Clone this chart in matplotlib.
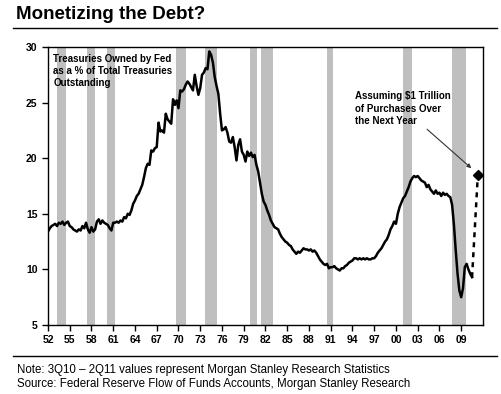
import matplotlib
matplotlib.use("Agg")
import matplotlib.pyplot as plt
from matplotlib.lines import Line2D

plt.rcParams['font.family'] = ['Liberation Sans', 'DejaVu Sans']

# quarterly share of treasuries held by the Fed (%)
years = [1952 + i * 0.25 for i in range(235)]
values = [
    13.4, 13.7, 13.9, 14.0, 14.1, 13.9, 14.2, 14.1, 14.3, 14.0, 14.2, 14.3,   # 52-54
    13.9, 13.8, 13.6, 13.5, 13.4, 13.6, 13.5, 13.9, 13.7, 14.2, 13.6, 13.3,   # 55-57
    13.8, 13.4, 13.6, 14.3, 14.5, 14.1, 14.4, 14.2, 14.1, 14.0, 13.7, 13.5,   # 58-60
    14.2, 14.2, 14.3, 14.2, 14.4, 14.3, 14.7, 14.6, 15.0, 14.9, 15.3, 15.9,   # 61-63
    16.2, 16.6, 16.8, 17.2, 17.6, 18.3, 19.1, 19.5, 19.4, 20.7, 20.6, 20.9,   # 64-66
    21.0, 23.2, 22.4, 22.5, 22.3, 24.0, 23.5, 23.3, 23.1, 25.3, 24.8, 25.2,   # 67-69
    24.5, 26.1, 26.0, 26.2, 26.6, 26.9, 26.7, 26.4, 26.1, 27.5, 26.5, 25.7,   # 70-72
    26.3, 27.5, 27.7, 28.1, 28.0, 29.6, 29.3, 28.6, 27.3, 26.5, 25.8, 24.0,   # 73-75
    22.5, 22.6, 22.8, 22.3, 21.5, 21.4, 21.9, 21.0, 19.8, 21.2, 21.7, 20.6,   # 76-78
    20.3, 19.7, 20.6, 20.2, 20.5, 20.1, 20.3, 19.4, 18.8, 17.8, 16.8, 16.1,   # 79-81
    15.8, 15.3, 14.9, 14.4, 14.1, 13.8, 13.7, 13.6, 13.2, 12.9, 12.7, 12.5,   # 82-84
    12.4, 12.2, 12.1, 11.8, 11.6, 11.4, 11.6, 11.5, 11.7, 11.9, 11.8, 11.8,   # 85-87
    11.7, 11.8, 11.6, 11.7, 11.5, 11.2, 10.9, 10.7, 10.5, 10.4, 10.5, 10.1,   # 88-90
    10.2, 10.2, 10.3, 10.1, 10.0, 9.9, 10.1, 10.1, 10.3, 10.4, 10.6, 10.7,    # 91-93
    10.8, 11.0, 11.0, 10.9, 11.0, 10.9, 11.0, 10.9, 11.0, 10.9, 10.9, 11.0,   # 94-96
    11.0, 11.2, 11.5, 11.7, 11.9, 12.2, 12.5, 12.7, 13.1, 13.6, 13.9, 14.3,   # 97-99
    14.1, 15.0, 15.6, 16.0, 16.4, 16.6, 17.0, 17.4, 17.9, 18.2, 18.4, 18.3,   # 00-02
    18.4, 18.2, 18.0, 17.9, 17.8, 17.4, 17.6, 17.2, 17.0, 16.8, 17.1, 16.8,   # 03-05
    16.9, 16.6, 16.9, 16.7, 16.8, 16.6, 16.5, 15.8, 14.0, 11.7, 9.6, 8.1,     # 06-08
    7.5, 8.3, 10.2, 10.5, 10.0, 9.6, 9.3,                                     # 09-10
]

# projection assuming $1tn of purchases
proj_years = [2010.5, 2011.3]
proj_values = [9.3, 18.5]

# recession periods
recessions = [(1953.25, 1954.5), (1957.4, 1958.5), (1960.2, 1961.3),
              (1969.7, 1971.0), (1973.7, 1975.3), (1979.9, 1980.8),
              (1981.4, 1983.0), (1990.5, 1991.3), (2001.0, 2002.2),
              (2007.8, 2009.6)]

xticks = list(range(1952, 2010, 3))
xlabels = ["%02d" % (y % 100) for y in xticks]

fig = plt.figure(figsize=(5.02, 3.94), dpi=100)
ax = fig.add_axes([0.0956, 0.1751, 0.8664, 0.7056])

for start, end in recessions:
    ax.axvspan(start, end, color="#bfbfbf", lw=0, zorder=0)

ax.plot(years, values, color="black", lw=1.8, zorder=3)
ax.plot(proj_years, proj_values, color="black", lw=1.8, ls=(0, (2, 2)), zorder=3)
ax.plot(proj_years[-1], proj_values[-1], marker="D", color="black", ms=5, zorder=4)

ax.set_xlim(1952, 2012)
ax.set_ylim(5, 30)
ax.set_yticks([5, 10, 15, 20, 25, 30])
ax.set_xticks(xticks)
ax.set_xticklabels(xlabels)
ax.tick_params(axis="both", labelsize=7.5, length=4, width=1, color="black")
for lab in ax.get_xticklabels() + ax.get_yticklabels():
    lab.set_fontweight("bold")
for s in ax.spines.values():
    s.set_linewidth(1)

ax.text(0.012, 0.975, "Treasuries Owned by Fed\nas a % of Total Treasuries\nOutstanding",
        transform=ax.transAxes, ha="left", va="top", fontsize=7, fontweight="bold",
        linespacing=1.25)

ax.text(1994.4, 26.0, "Assuming $1 Trillion\nof Purchases Over\nthe Next Year",
        ha="left", va="top", fontsize=7, fontweight="bold", linespacing=1.3)
ax.annotate("", xy=(2010.4, 19.1), xytext=(2004.3, 22.6),
            arrowprops=dict(arrowstyle="-|>", color="#333333", lw=0.8,
                            shrinkA=0, shrinkB=0, mutation_scale=6))

fig.text(0.031, 0.962, "Monetizing the Debt?", fontsize=13.5, fontweight="bold",
         ha="left", va="center")
fig.add_artist(Line2D([0.026, 0.99], [0.929, 0.929], color="black", lw=1))
fig.add_artist(Line2D([0.026, 0.99], [0.096, 0.096], color="black", lw=1))

fig.text(0.033, 0.061, "Note: 3Q10 \u2013 2Q11 values represent Morgan Stanley Research Statistics",
         fontsize=8.3, ha="left", va="center")
fig.text(0.033, 0.026, "Source: Federal Reserve Flow of Funds Accounts, Morgan Stanley Research",
         fontsize=8.3, ha="left", va="center")

fig.savefig("out.png", dpi=100)
